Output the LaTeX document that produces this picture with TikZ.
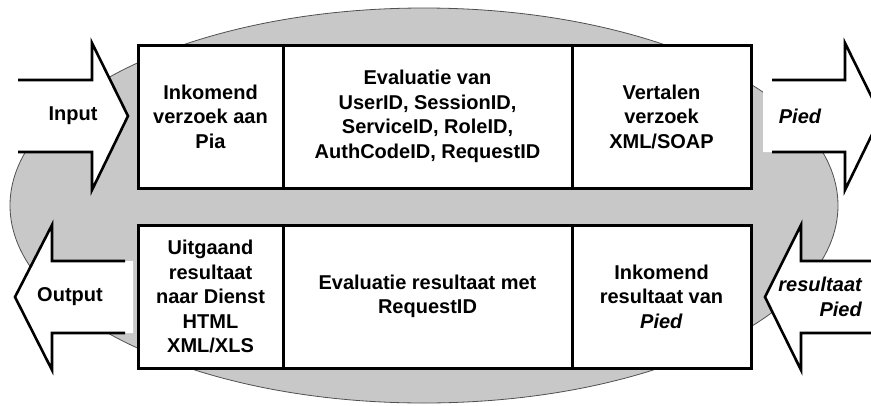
\documentclass[tikz,border=0pt]{standalone}
\usepackage{fontspec}
\setmainfont{Liberation Sans}
\definecolor{ellgray}{RGB}{200,200,200}
\definecolor{ellline}{RGB}{80,80,80}
\begin{document}
\begin{tikzpicture}[x=1pt,y=-1pt,
  every node/.style={font=\fontsize{20}{24.5}\selectfont\bfseries, align=center, inner sep=0pt},
  stage/.style={draw=black, line width=3pt, fill=white, minimum height=143pt},
  arrowline/.style={draw=black, line width=2.6pt, line join=miter},
  arrowfill/.style={fill=white, draw=none}]
\useasboundingbox (0,0) rectangle (871,405);

% background ellipse
\draw[ellline, line width=0.8pt, fill=ellgray] (424,205.5) ellipse [x radius=414pt, y radius=197.5pt];

% input arrow (open tail)
\fill[arrowfill] (18,80) -- (92,80) -- (92,43) -- (128,116) -- (92,190) -- (92,152) -- (18,152) -- cycle;
\draw[arrowline] (18,80) -- (92,80) -- (92,43) -- (128,116) -- (92,190) -- (92,152) -- (18,152);
\node (input) at (73,116) {Input};

% outgoing request arrow
\fill[arrowfill] (763,80) -- (845,80) -- (845,43) -- (881,116) -- (845,190) -- (845,152) -- (763,152) -- cycle;
\draw[arrowline] (772,80) -- (845,80) -- (845,43) -- (881,116) -- (845,190) -- (845,152) -- (772,152);
\node (pied) at (800,116) {\itshape Pied};

% output arrow
\fill[arrowfill] (133,261) -- (52,261) -- (52,225) -- (15,297) -- (52,370) -- (52,333) -- (133,333) -- cycle;
\draw[arrowline] (125,261) -- (52,261) -- (52,225) -- (15,297) -- (52,370) -- (52,333) -- (125,333);
\node (output) at (70,297) {Output};

% incoming result arrow
\fill[arrowfill] (890,261) -- (801,261) -- (801,225) -- (765,297) -- (801,370) -- (801,333) -- (890,333) -- cycle;
\draw[arrowline] (890,261) -- (801,261) -- (801,225) -- (765,297) -- (801,370) -- (801,333) -- (890,333);
\node[anchor=east, align=right] (result) at (862,297) {\itshape resultaat\\\itshape Pied};

% request processing stages
\node[stage, minimum width=145pt] (t1) at (210.5,116.5) {Inkomend\\verzoek aan\\Pia};
\node[stage, minimum width=289pt] (t2) at (427.5,116.5) {Evaluatie van\\UserID, SessionID,\\ServiceID, RoleID,\\AuthCodeID, RequestID};
\node[stage, minimum width=179pt] (t3) at (661.5,116.5) {Vertalen\\verzoek\\XML/SOAP};

% result processing stages
\node[stage, minimum width=145pt] (b1) at (210.5,296.5) {Uitgaand\\resultaat\\naar Dienst\\HTML\\XML/XLS};
\node[stage, minimum width=289pt] (b2) at (427.5,296.5) {Evaluatie resultaat met\\RequestID};
\node[stage, minimum width=179pt] (b3) at (661.5,296.5) {Inkomend\\resultaat van\\\textit{Pied}};
\end{tikzpicture}
\end{document}
